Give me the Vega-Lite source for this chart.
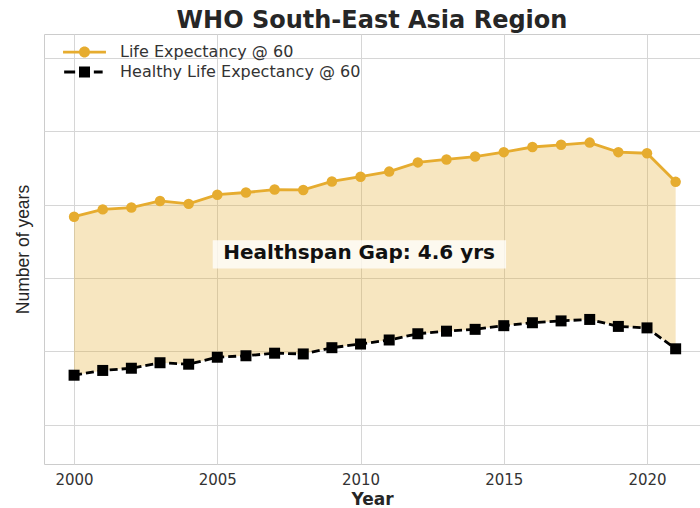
{
  "$schema": "https://vega.github.io/schema/vega-lite/v6.json",
  "width": 656,
  "height": 430,
  "autosize": {"type": "none"},
  "padding": {"left": 44, "top": 34, "right": 0, "bottom": 44},
  "background": "white",
  "title": {
    "text": "WHO South-East Asia Region",
    "font": "DejaVu Sans",
    "fontSize": 24,
    "fontWeight": "bold",
    "color": "#262626",
    "anchor": "middle",
    "offset": 1
  },
  "data": {
    "values": [
      {"year": 2000, "Life Expectancy @ 60": 17.67, "Healthy Life Expectancy @ 60": 13.35},
      {"year": 2001, "Life Expectancy @ 60": 17.87, "Healthy Life Expectancy @ 60": 13.48},
      {"year": 2002, "Life Expectancy @ 60": 17.92, "Healthy Life Expectancy @ 60": 13.54},
      {"year": 2003, "Life Expectancy @ 60": 18.10, "Healthy Life Expectancy @ 60": 13.69},
      {"year": 2004, "Life Expectancy @ 60": 18.02, "Healthy Life Expectancy @ 60": 13.65},
      {"year": 2005, "Life Expectancy @ 60": 18.27, "Healthy Life Expectancy @ 60": 13.84},
      {"year": 2006, "Life Expectancy @ 60": 18.33, "Healthy Life Expectancy @ 60": 13.88},
      {"year": 2007, "Life Expectancy @ 60": 18.41, "Healthy Life Expectancy @ 60": 13.95},
      {"year": 2008, "Life Expectancy @ 60": 18.40, "Healthy Life Expectancy @ 60": 13.93},
      {"year": 2009, "Life Expectancy @ 60": 18.63, "Healthy Life Expectancy @ 60": 14.10},
      {"year": 2010, "Life Expectancy @ 60": 18.76, "Healthy Life Expectancy @ 60": 14.20},
      {"year": 2011, "Life Expectancy @ 60": 18.90, "Healthy Life Expectancy @ 60": 14.31},
      {"year": 2012, "Life Expectancy @ 60": 19.15, "Healthy Life Expectancy @ 60": 14.48},
      {"year": 2013, "Life Expectancy @ 60": 19.23, "Healthy Life Expectancy @ 60": 14.55},
      {"year": 2014, "Life Expectancy @ 60": 19.31, "Healthy Life Expectancy @ 60": 14.60},
      {"year": 2015, "Life Expectancy @ 60": 19.43, "Healthy Life Expectancy @ 60": 14.70},
      {"year": 2016, "Life Expectancy @ 60": 19.57, "Healthy Life Expectancy @ 60": 14.78},
      {"year": 2017, "Life Expectancy @ 60": 19.63, "Healthy Life Expectancy @ 60": 14.83},
      {"year": 2018, "Life Expectancy @ 60": 19.69, "Healthy Life Expectancy @ 60": 14.87},
      {"year": 2019, "Life Expectancy @ 60": 19.43, "Healthy Life Expectancy @ 60": 14.68},
      {"year": 2020, "Life Expectancy @ 60": 19.40, "Healthy Life Expectancy @ 60": 14.64},
      {"year": 2021, "Life Expectancy @ 60": 18.62, "Healthy Life Expectancy @ 60": 14.07}
    ]
  },
  "config": {
    "view": {"stroke": "#cccccc", "strokeWidth": 1},
    "axis": {
      "labelFont": "DejaVu Sans",
      "titleFont": "DejaVu Sans",
      "labelColor": "#333333",
      "titleColor": "#262626",
      "gridColor": "#d6d6d6",
      "gridWidth": 1,
      "ticks": false,
      "domain": false
    },
    "legend": {
      "orient": "none",
      "legendX": 32.5,
      "legendY": 10,
      "title": null,
      "labelFont": "DejaVu Sans",
      "labelFontSize": 16,
      "labelColor": "#333333",
      "labelLimit": 400,
      "symbolSize": 121,
      "symbolOpacity": 1,
      "symbolStrokeWidth": 0,
      "labelOffset": 27.5,
      "padding": 0,
      "rowPadding": 4
    }
  },
  "layer": [
    {
      "mark": {"type": "area", "color": "#E6AC2F", "opacity": 0.3},
      "encoding": {
        "x": {
          "field": "year",
          "type": "quantitative",
          "scale": {"domain": [1998.95, 2021.85], "nice": false, "zero": false},
          "axis": {
            "values": [2000, 2005, 2010, 2015, 2020],
            "format": "d",
            "labelFontSize": 15,
            "labelPadding": 8,
            "title": "Year",
            "titleFontSize": 17,
            "titleFontWeight": "bold",
            "titlePadding": 4
          }
        },
        "y": {
          "field": "Life Expectancy @ 60",
          "type": "quantitative",
          "scale": {"domain": [10.93, 22.65], "nice": false, "zero": false},
          "axis": {
            "values": [12, 14, 16, 18, 20, 22],
            "labels": false,
            "title": "Number of years",
            "titleFont": "Liberation Sans",
            "titleFontSize": 17.5,
            "titleFontWeight": "normal",
            "titlePadding": 12
          }
        },
        "y2": {"field": "Healthy Life Expectancy @ 60"}
      }
    },
    {
      "mark": {"type": "line", "strokeWidth": 2.8, "color": "#E6AC2F"},
      "encoding": {
        "x": {"field": "year", "type": "quantitative", "title": "Year"},
        "y": {"field": "Life Expectancy @ 60", "type": "quantitative", "title": "Number of years"}
      }
    },
    {
      "mark": {"type": "line", "strokeWidth": 2.8, "color": "#000000", "strokeDash": [8, 4]},
      "encoding": {
        "x": {"field": "year", "type": "quantitative", "title": "Year"},
        "y": {"field": "Healthy Life Expectancy @ 60", "type": "quantitative", "title": "Number of years"}
      }
    },
    {
      "mark": {"type": "point", "filled": true, "opacity": 1, "shape": "circle", "size": 110, "color": "#E6AC2F"},
      "encoding": {
        "x": {"field": "year", "type": "quantitative", "title": "Year"},
        "y": {"field": "Life Expectancy @ 60", "type": "quantitative", "title": "Number of years"}
      }
    },
    {
      "mark": {"type": "point", "filled": true, "opacity": 1, "shape": "square", "size": 121, "color": "#000000"},
      "encoding": {
        "x": {"field": "year", "type": "quantitative", "title": "Year"},
        "y": {"field": "Healthy Life Expectancy @ 60", "type": "quantitative", "title": "Number of years"}
      }
    },
    {
      "transform": [
        {"fold": ["Life Expectancy @ 60", "Healthy Life Expectancy @ 60"], "as": ["series", "value"]}
      ],
      "mark": {"type": "point", "filled": true, "opacity": 0},
      "encoding": {
        "x": {"field": "year", "type": "quantitative", "title": "Year"},
        "y": {"field": "value", "type": "quantitative", "title": "Number of years"},
        "color": {
          "field": "series",
          "type": "nominal",
          "scale": {"domain": ["Life Expectancy @ 60", "Healthy Life Expectancy @ 60"], "range": ["#E6AC2F", "#000000"]}
        },
        "shape": {
          "field": "series",
          "type": "nominal",
          "scale": {
            "domain": ["Life Expectancy @ 60", "Healthy Life Expectancy @ 60"],
            "range": [
              "M-3.9,-0.25L3.9,-0.25L3.9,0.25L-3.9,0.25Z M-1,0A1,1 0 1,1 1,0A1,1 0 1,1 -1,0Z",
              "M-3.7,-0.28L-1.7,-0.28L-1.7,0.28L-3.7,0.28Z M-1,-1L1,-1L1,1L-1,1Z M1.7,-0.28L3.3,-0.28L3.3,0.28L1.7,0.28Z"
            ]
          }
        }
      }
    },
    {
      "data": {"values": [{"label": "Healthspan Gap: 4.6 yrs"}]},
      "layer": [
        {
          "mark": {"type": "rect", "color": "white", "opacity": 0.75},
          "encoding": {
            "x": {"datum": 2004.84, "type": "quantitative"},
            "x2": {"datum": 2015.08},
            "y": {"datum": 17.03, "type": "quantitative"},
            "y2": {"datum": 16.26}
          }
        },
        {
          "mark": {"type": "text", "font": "DejaVu Sans", "fontSize": 20, "fontWeight": "bold", "color": "#111111", "baseline": "middle", "align": "center"},
          "encoding": {
            "x": {"datum": 2009.95, "type": "quantitative"},
            "y": {"datum": 16.67, "type": "quantitative"},
            "text": {"field": "label"}
          }
        }
      ]
    }
  ]
}
